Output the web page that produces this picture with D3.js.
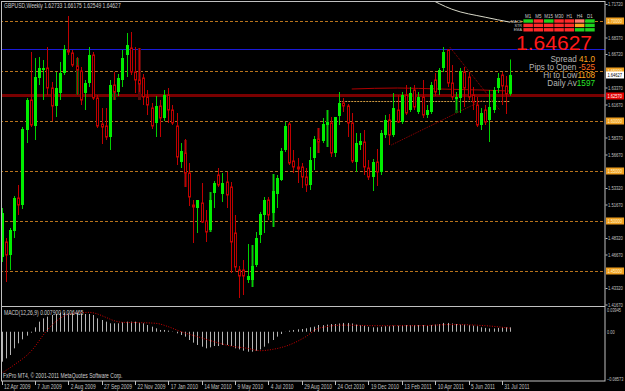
<!DOCTYPE html>
<html>
<head>
<meta charset="utf-8">
<script src="https://cdn.jsdelivr.net/npm/d3@7"></script>
<style>
body { margin: 0; background: #000; }
svg { display: block; font-family: "Liberation Sans", Arial, sans-serif; }
</style>
</head>
<body>
<svg id="chart" width="625" height="391"></svg>
<script>
// weekly GBPUSD bars, first bar = week of 12 Apr 2009
const open = [1.4642,1.4792,1.4662,1.4902,1.5232,1.5162,1.5912,1.6212,1.5952,1.6432,1.6512,1.6532,1.6332,1.6152,1.6282,1.6482,1.6712,1.6682,1.6552,1.6502,1.6282,1.6382,1.6662,1.6232,1.5972,1.5952,1.5842,1.6362,1.6292,1.6412,1.6662,1.6732,1.6492,1.6412,1.6432,1.6242,1.6132,1.5982,1.6152,1.6032,1.6262,1.6112,1.5952,1.5592,1.5682,1.5482,1.5162,1.5132,1.5182,1.5002,1.4912,1.5282,1.5462,1.5272,1.5392,1.5342,1.4882,1.4512,1.4512,1.4412,1.4412,1.4562,1.4862,1.5062,1.5212,1.5082,1.5272,1.5412,1.5712,1.5972,1.5602,1.5542,1.5542,1.5442,1.5362,1.5632,1.5822,1.5802,1.5962,1.5982,1.5682,1.6052,1.6182,1.6152,1.5982,1.5592,1.5762,1.5792,1.5532,1.5442,1.5592,1.5492,1.5862,1.6012,1.5862,1.6112,1.5992,1.6262,1.6112,1.6312,1.6092,1.6242,1.6062,1.6092,1.6412,1.6312,1.6532,1.6712,1.6382,1.6222,1.6232,1.6492,1.6442,1.6262,1.6162,1.5962,1.6112,1.6012,1.6112,1.6332,1.6462,1.6352,1.62733]
const high = [1.5132,1.4832,1.4932,1.5252,1.5362,1.5942,1.6232,1.6692,1.6632,1.6642,1.6612,1.6742,1.6392,1.6492,1.6592,1.6762,1.7052,1.6712,1.6642,1.6542,1.6412,1.6742,1.6692,1.6262,1.6132,1.6132,1.6412,1.6492,1.6472,1.6712,1.6882,1.6892,1.6742,1.6732,1.6472,1.6312,1.6182,1.6252,1.6212,1.6312,1.6332,1.6162,1.6082,1.5782,1.5822,1.5582,1.5212,1.5212,1.5382,1.5112,1.5292,1.5402,1.5532,1.5482,1.5492,1.5392,1.5062,1.4552,1.4612,1.4772,1.4762,1.4892,1.5092,1.5242,1.5242,1.5472,1.5462,1.5732,1.5992,1.5992,1.5712,1.5632,1.5582,1.5532,1.5742,1.5852,1.5932,1.6032,1.6112,1.6042,1.6042,1.6292,1.6232,1.6172,1.6082,1.5882,1.5882,1.5912,1.5612,1.5622,1.5722,1.5912,1.6062,1.6072,1.6282,1.6262,1.6292,1.6362,1.6342,1.6362,1.6292,1.6412,1.6162,1.6392,1.6482,1.6532,1.6742,1.6722,1.6562,1.6292,1.6532,1.6542,1.6492,1.6342,1.6242,1.6132,1.6162,1.6312,1.6342,1.6482,1.6492,1.6452,1.66175]
const low = [1.4592,1.4392,1.4512,1.4832,1.5062,1.5122,1.5782,1.5942,1.5812,1.6362,1.6212,1.6262,1.6002,1.6042,1.6212,1.6462,1.6662,1.6542,1.6262,1.6162,1.6112,1.6342,1.6212,1.5932,1.5772,1.5812,1.5712,1.6212,1.6252,1.6342,1.6442,1.6462,1.6282,1.6292,1.6162,1.6062,1.5922,1.5842,1.5842,1.6002,1.5982,1.5962,1.5562,1.5532,1.5342,1.5152,1.4782,1.4882,1.4982,1.4792,1.4892,1.5132,1.5342,1.5192,1.5132,1.4482,1.4492,1.4232,1.4262,1.4382,1.4342,1.4542,1.4782,1.4882,1.5012,1.4942,1.5132,1.5402,1.5692,1.5562,1.5482,1.5382,1.5332,1.5292,1.5312,1.5512,1.5682,1.5782,1.5742,1.5642,1.5642,1.5962,1.6092,1.5842,1.5582,1.5492,1.5712,1.5462,1.5412,1.5302,1.5352,1.5462,1.5832,1.5762,1.5842,1.5982,1.5972,1.6062,1.6092,1.6112,1.6072,1.6032,1.6032,1.6072,1.6252,1.6262,1.6492,1.6342,1.6212,1.6112,1.6082,1.6142,1.6212,1.6112,1.5942,1.5912,1.5962,1.5792,1.6082,1.6282,1.6162,1.6072,1.62549]
const close = [1.5082,1.4662,1.4912,1.5232,1.5162,1.5922,1.6212,1.5962,1.6442,1.6532,1.6532,1.6332,1.6152,1.6332,1.6482,1.6722,1.6692,1.6562,1.6512,1.6212,1.6382,1.6662,1.6232,1.5952,1.5942,1.5842,1.6362,1.6292,1.6432,1.6632,1.6762,1.6492,1.6412,1.6372,1.6242,1.6162,1.5952,1.6152,1.6032,1.6262,1.6112,1.5982,1.5642,1.5702,1.5482,1.5242,1.5142,1.5212,1.4992,1.4892,1.5212,1.5382,1.5362,1.5382,1.5262,1.4792,1.4542,1.4452,1.4452,1.4452,1.4552,1.4832,1.5072,1.5212,1.5062,1.5302,1.5432,1.5702,1.5952,1.5582,1.5542,1.5522,1.5442,1.5362,1.5612,1.5822,1.5792,1.5972,1.5992,1.5682,1.6042,1.6182,1.6152,1.5982,1.5602,1.5782,1.5802,1.5542,1.5442,1.5592,1.5492,1.5882,1.6012,1.5862,1.6132,1.5992,1.6262,1.6082,1.6282,1.6142,1.6242,1.6062,1.6112,1.6362,1.6292,1.6512,1.6692,1.6382,1.6242,1.6242,1.6502,1.6332,1.6242,1.6192,1.5962,1.6082,1.5992,1.6142,1.6312,1.6432,1.6352,1.6272,1.64627]

// darker bars seen behind some candles
const ghostBar = [18, 27, 33, 44, 50, 60, 65, 76, 78, 109]
const ghostTop = [1.6632, 1.6312, 1.6732, 1.5812, 1.5292, 1.4762, 1.5472, 1.5932, 1.6112, 1.6242]
const ghostBottom = [1.6262, 1.6212, 1.6212, 1.5342, 1.4892, 1.4342, 1.4942, 1.5682, 1.5742, 1.6082]
const ghostUp = [1, 1, 0, 0, 1, 1, 1, 0, 1, 1]

const dateTicks = ['12 Apr 2009', '7 Jun 2009', '2 Aug 2009', '27 Sep 2009', '22 Nov 2009', '17 Jan 2010', '14 Mar 2010', '9 May 2010', '4 Jul 2010', '29 Aug 2010', '24 Oct 2010', '19 Dec 2010', '13 Feb 2011', '10 Apr 2011', '5 Jun 2011', '31 Jul 2011']
const priceTicks = [1.7172, 1.6837, 1.6672, 1.6337, 1.6167, 1.5837, 1.5667, 1.5332, 1.5167, 1.4832, 1.4667, 1.4332, 1.4167]
const roundLevels = [1.70, 1.65, 1.60, 1.55, 1.50, 1.45]
const blueLevel = 1.6722
const redLevel = 1.6257
const lastPrice = 1.64627
const shortLevel = [81, 122, 1.6202]

// moving averages: [bar, price]
const redMaBar = [84, 95, 105, 115, 122]
const redMaVal = [1.6322, 1.6332, 1.6322, 1.6312, 1.6302]
const slowMaBar = [102, 108, 116, 122]
const slowMaVal = [1.724, 1.712, 1.704, 1.699]

// trend lines [bar1, price1, bar2, price2]
const trendA = [93.5, 1.5762, 115.5, 1.6212]
const trendB = [107.5, 1.6742, 119.5, 1.6112]

// MACD main, one value per bar, and the signal line
const macdMain = [-0.0543,-0.0483,-0.0422,-0.0301,-0.021,-0.0138,-0.0071,-0.0016,0.008,0.0183,0.0243,0.0274,0.0304,0.0322,0.0346,0.0346,0.0334,0.0334,0.0346,0.0334,0.0322,0.0322,0.0304,0.0243,0.0213,0.0183,0.0153,0.0153,0.0153,0.0171,0.0183,0.0183,0.0183,0.0165,0.0153,0.0122,0.0092,0.0062,0.0032,0.0032,0.002,0.0005,-0.0029,-0.0059,-0.0089,-0.015,-0.0198,-0.024,-0.0271,-0.0301,-0.0283,-0.0259,-0.0259,-0.024,-0.024,-0.0259,-0.0301,-0.032,-0.0344,-0.0362,-0.0362,-0.0344,-0.032,-0.0271,-0.021,-0.015,-0.0089,-0.0041,0.0002,0.002,0.0032,0.0044,0.005,0.0062,0.008,0.0092,0.0122,0.012,0.013,0.014,0.014,0.015,0.016,0.016,0.015,0.013,0.012,0.011,0.009,0.008,0.008,0.009,0.01,0.01,0.011,0.011,0.012,0.012,0.012,0.012,0.012,0.012,0.011,0.012,0.013,0.014,0.016,0.016,0.015,0.014,0.013,0.013,0.012,0.011,0.01,0.008,0.007,0.006,0.006,0.007,0.008,0.008,0.0079]
const signalBar = [0, 3, 7, 11, 13, 15, 17, 19, 21, 22.5, 25, 27, 29, 33, 37, 40, 43, 47, 51, 55, 59, 62, 65, 69, 73, 76, 82, 90, 100, 108, 116, 122]
const signalVal = [-0.0754,-0.0603,-0.0361,0.0032,0.0183,0.0286,0.0334,0.0346,0.0352,0.0334,0.0262,0.0201,0.0171,0.0165,0.0153,0.0092,0.0002,-0.0089,-0.018,-0.0259,-0.0301,-0.0344,-0.032,-0.024,-0.0089,0.0062,0.012,0.011,0.011,0.013,0.011,0.006465]

// timeframe panel
const tfNames = ['M1', 'M5', 'M15', 'M30', 'H1', 'H4', 'D1']
const tfRows = ['MACD', 'STR', 'EMA']
const tfState = [
    ['up', 'down', 'up', 'down', 'down', 'weak', 'up'],
    ['down', 'down', 'down', 'down', 'down', 'mid', 'up'],
    ['down', 'down', 'down', 'down', 'down', 'up', 'up']
]
const infoLabels = ['Spread ', 'Pips to Open ', 'Hi to Low', 'Daily Av']
const infoValues = ['41.0', '-525', '1108', '1597']

const stateColor = { up: '#1ed21e', down: '#ff2a2a', weak: '#ff7a6a', mid: '#ffa21e' }
const infoColor = ['#ffa51e', '#ff6a1e', '#ffa51e', '#28e628']

const svg = d3.select('#chart')
const axisX = 605
const paneBottom = 306
const macdBottom = 381
const grey = '#c0c0c0'
const small = 5.9

// MT4 text is narrow: squeeze it horizontally, keeping its left edge in place
function squeeze(sel, k) {
    sel.attr('transform', function () {
        const x0 = +this.getAttribute('x') || 0
        return `translate(${x0 * (1 - k)},0) scale(${k},1)`
    })
}

svg.append('rect').attr('width', 625).attr('height', 391).attr('fill', '#000')

const x = d3.scaleLinear().domain([0, 122]).range([1.5, 510.2])
const y = d3.scaleLinear().domain([1.4332, 1.7172]).range([288, 4])
const ym = d3.scaleLinear().domain([-0.08573, 0.03945]).range([379, 310])

svg.append('clipPath').attr('id', 'pane')
    .append('rect').attr('x', 1).attr('y', 1).attr('width', axisX - 1).attr('height', paneBottom - 1)
svg.append('clipPath').attr('id', 'mpane')
    .append('rect').attr('x', 1).attr('y', paneBottom + 1).attr('width', axisX - 1).attr('height', macdBottom - paneBottom - 1)

const pane = svg.append('g').attr('clip-path', 'url(#pane)')

// horizontal levels
pane.selectAll('.round').data(roundLevels).enter().append('line')
    .attr('x1', 0).attr('x2', axisX)
    .attr('y1', d => Math.round(y(d)) + 0.5).attr('y2', d => Math.round(y(d)) + 0.5)
    .attr('stroke', '#b8741c').attr('stroke-dasharray', '3,2')
pane.append('line').attr('x1', 0).attr('x2', axisX)
    .attr('y1', Math.round(y(blueLevel)) + 0.5).attr('y2', Math.round(y(blueLevel)) + 0.5)
    .attr('stroke', '#1a1ad8')
pane.append('line').attr('x1', 0).attr('x2', axisX)
    .attr('y1', y(redLevel)).attr('y2', y(redLevel))
    .attr('stroke', '#7a0000').attr('stroke-width', 3)
pane.append('line').attr('x1', x(shortLevel[0])).attr('x2', x(shortLevel[1]))
    .attr('y1', Math.round(y(shortLevel[2])) + 0.5).attr('y2', Math.round(y(shortLevel[2])) + 0.5)
    .attr('stroke', '#d09a40').attr('stroke-dasharray', '2,1')

// moving averages
const maLine = d3.line().x(d => x(d[0])).y(d => y(d[1])).curve(d3.curveMonotoneX)
pane.append('path').datum(redMaBar.map((b, i) => [b, redMaVal[i]]))
    .attr('d', maLine).attr('fill', 'none').attr('stroke', '#b00000')
pane.append('path').datum(slowMaBar.map((b, i) => [b, slowMaVal[i]]))
    .attr('d', maLine).attr('fill', 'none').attr('stroke', '#d8d8c8')

// trend lines
;[trendA, trendB].forEach(t => {
    pane.append('line')
        .attr('x1', x(t[0])).attr('y1', y(t[1]))
        .attr('x2', x(t[2])).attr('y2', y(t[3]))
        .attr('stroke', '#a00000').attr('stroke-dasharray', '1,1')
})

// ghost bars
pane.selectAll('.ghost').data(ghostBar).enter().append('rect')
    .attr('x', d => Math.round(x(d)) - 1)
    .attr('y', (d, i) => y(ghostTop[i]))
    .attr('width', 3)
    .attr('height', (d, i) => y(ghostBottom[i]) - y(ghostTop[i]))
    .attr('fill', (d, i) => (ghostUp[i] ? '#0a5a0a' : '#5a0a0a'))

// candles
const bars = d3.range(open.length)
const up = i => close[i] >= open[i]
pane.selectAll('.wick').data(bars).enter().append('line')
    .attr('x1', i => Math.round(x(i)) + 0.5).attr('x2', i => Math.round(x(i)) + 0.5)
    .attr('y1', i => y(high[i])).attr('y2', i => y(low[i]))
    .attr('stroke', i => (up(i) ? '#00d000' : '#c00000'))
pane.selectAll('.body').data(bars).enter().append('rect')
    .attr('x', i => Math.round(x(i)) - 1 + (up(i) ? 0 : 0.5))
    .attr('y', i => y(Math.max(open[i], close[i])))
    .attr('width', i => (up(i) ? 3 : 2))
    .attr('height', i => Math.max(1, Math.abs(y(open[i]) - y(close[i]))))
    .attr('fill', i => (up(i) ? '#00ee00' : '#000'))
    .attr('stroke', i => (up(i) ? 'none' : '#c00000'))

// MACD pane
const mpane = svg.append('g').attr('clip-path', 'url(#mpane)')
mpane.selectAll('.hist').data(macdMain).enter().append('line')
    .attr('x1', (d, i) => Math.round(x(i)) + 0.5).attr('x2', (d, i) => Math.round(x(i)) + 0.5)
    .attr('y1', ym(0)).attr('y2', d => ym(d))
    .attr('stroke', '#b4b4b4')
mpane.append('path').datum(signalBar.map((b, i) => [b, signalVal[i]]))
    .attr('d', d3.line().x(d => x(d[0])).y(d => ym(d[1])).curve(d3.curveMonotoneX))
    .attr('fill', 'none').attr('stroke', '#d00000').attr('stroke-dasharray', '1,1.5')

// frame
svg.append('rect').attr('x', 1.5).attr('y', 1.5).attr('width', axisX - 1.5).attr('height', macdBottom - 1.5)
    .attr('fill', 'none').attr('stroke', grey)
svg.append('line').attr('x1', 1).attr('x2', axisX).attr('y1', paneBottom + 0.5).attr('y2', paneBottom + 0.5)
    .attr('stroke', grey)

// price axis
const yAxis = d3.axisRight(y).tickValues(priceTicks).tickSize(2).tickFormat(d3.format('.5f'))
const ya = svg.append('g').attr('transform', `translate(${axisX + 0.5},0)`).call(yAxis)
ya.select('.domain').remove()
ya.selectAll('line').attr('stroke', grey)
ya.selectAll('text').attr('fill', grey).attr('font-size', small).attr('x', 2.5)
    .attr('font-family', '"Liberation Sans", Arial, sans-serif')
squeeze(ya.selectAll('text'), 0.7)

// axis boxes
function axisBox(v, fill, color) {
    const g = svg.append('g').attr('transform', `translate(${axisX + 1},${Math.round(y(v)) - 3.5})`)
    g.append('rect').attr('width', 18).attr('height', 7).attr('fill', fill)
    const t = g.append('text').attr('x', 1.5).attr('y', 5.5).attr('font-size', small).attr('fill', color)
        .text(d3.format('.5f')(v))
    squeeze(t, 0.68)
}
roundLevels.forEach(v => axisBox(v, '#f0a020', '#fff4d0'))
axisBox(redLevel, '#e00000', '#ffffff')
axisBox(lastPrice, '#ffffff', '#000000')

// MACD axis
const mAxis = d3.axisRight(ym).tickValues([0.03945, 0, -0.08573]).tickSize(0)
    .tickFormat(d => (d === 0 ? '0.00' : d3.format('.5f')(d)))
const ma = svg.append('g').attr('transform', `translate(${axisX},0)`).call(mAxis)
ma.select('.domain').remove()
ma.selectAll('text').attr('fill', grey).attr('font-size', small).attr('x', 2)
    .attr('font-family', '"Liberation Sans", Arial, sans-serif')
squeeze(ma.selectAll('text'), 0.66)

// date axis
const dateIdx = dateTicks.map((d, i) => i * 8)
const xa = svg.append('g')
xa.selectAll('line').data(dateIdx).enter().append('line')
    .attr('x1', d => Math.round(x(d)) + 0.5).attr('x2', d => Math.round(x(d)) + 0.5)
    .attr('y1', macdBottom).attr('y2', macdBottom + 4).attr('stroke', grey)
xa.selectAll('text').data(dateTicks).enter().append('text')
    .attr('x', (d, i) => x(dateIdx[i]) + 2.5).attr('y', 389.5)
    .attr('font-size', 6.5).attr('fill', grey).text(d => d)
squeeze(xa.selectAll('text'), 0.76)

// texts
const texts = svg.append('g').attr('font-size', 6.5).attr('fill', '#d0d0d0')
texts.append('text').attr('x', 4).attr('y', 8).text('GBPUSD,Weekly  1.62733 1.66175 1.62549 1.64627')
texts.append('text').attr('x', 4).attr('y', 315).text('MACD(12,26,9) 0.007900 0.006465')
texts.append('text').attr('x', 3).attr('y', 378.5).text('FxPro MT4, \u00a9 2001-2011 MetaQuotes Software Corp.')
squeeze(texts.selectAll('text'), 0.77)

// timeframe panel
const cellX = 523, cellW = 10.3
const panel = svg.append('g')
panel.selectAll('.tf').data(tfNames).enter().append('text')
    .attr('x', (d, i) => cellX + i * cellW + cellW / 2).attr('y', 17.5)
    .attr('text-anchor', 'middle').attr('font-size', 4.5).attr('fill', '#c8c8c8').text(d => d)
tfRows.forEach((r, ri) => {
    panel.append('text').attr('x', cellX - 1).attr('y', 22.6 + ri * 4.4)
        .attr('text-anchor', 'end').attr('font-size', 3.8).attr('fill', '#c8c8c8').text(r)
    panel.selectAll('.c' + ri).data(tfState[ri]).enter().append('rect')
        .attr('x', (d, i) => cellX + i * cellW + 0.4).attr('y', 19.3 + ri * 4.4)
        .attr('width', cellW - 0.8).attr('height', 3.4)
        .attr('fill', d => stateColor[d])
})
panel.append('text').attr('x', 592).attr('y', 50).attr('text-anchor', 'end')
    .attr('font-size', 21).attr('fill', '#ff1a1a').text(d3.format('.5f')(lastPrice))
infoLabels.forEach((l, i) => {
    const t = panel.append('text').attr('x', 595).attr('y', 62 + i * 8)
        .attr('text-anchor', 'end').attr('font-size', 8.2)
    t.append('tspan').attr('fill', '#b4b4b4').text(l)
    t.append('tspan').attr('fill', infoColor[i]).text(infoValues[i])
})
</script>
</body>
</html>
